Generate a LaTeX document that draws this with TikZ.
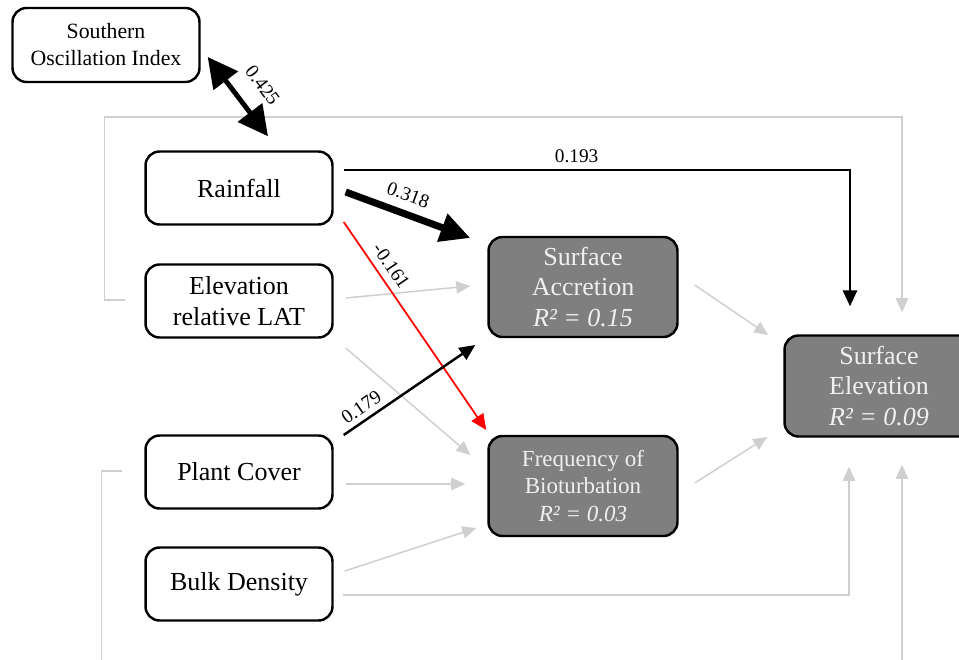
\documentclass[tikz,border=0pt]{standalone}
\usepackage{fontspec}
\setmainfont{Liberation Serif}
\usetikzlibrary{arrows.meta}

\definecolor{boxgray}{HTML}{7F7F7F}
\definecolor{pathgray}{HTML}{CFCFCF}

\tikzset{
    inbox/.style={draw, line width=1.4pt, rounded corners=0.28cm, fill=white,
        align=center, minimum width=3.74cm, minimum height=1.46cm,
        font=\fontsize{14.8}{17.6}\selectfont},
    outbox/.style={inbox, fill=boxgray, text=white!94!black,
        minimum width=3.78cm, minimum height=2cm},
    smalltext/.style={font=\fontsize{13.1}{15.6}\selectfont},
    faint/.style={pathgray, line width=0.85pt, -{Triangle[length=8pt,width=7pt]}},
    sig/.style={black, line width=1.4pt, -{Triangle[length=9pt,width=8pt]}},
    coef/.style={font=\fontsize{11}{13}\selectfont, text=black, sloped, inner sep=1pt},
}

\begin{document}
\begin{tikzpicture}[x=0.02cm, y=-0.02cm]

        \useasboundingbox (0,0) rectangle (959,659);

        \node[inbox, font=\fontsize{12.4}{15.4}\selectfont, minimum height=1.48cm] (soi) at (106,45) {Southern\\Oscillation Index};
        \node[inbox] (rain)  at (239,188) {Rainfall};
        \node[inbox] (elev)  at (239,301) {Elevation\\relative LAT};
        \node[inbox] (plant) at (239,472) {Plant Cover};
        \node[inbox] (bulk)  at (239,584) {Bulk Density};

        \node[outbox] (acc) at (583,287) {Surface\\Accretion\\\textit{R² = 0.15}};
        \node[outbox, smalltext] (bio) at (583,486) {Frequency of\\Bioturbation\\\textit{R² = 0.03}};
        \node[outbox, minimum height=2.02cm] (surf) at (879,386) {Surface\\Elevation\\\textit{R² = 0.09}};

        % non-significant paths
        \draw[faint] ([shift={(12,-3)}]elev.east) -- ([shift={(-17,-1)}]acc.west);
        \draw[faint] ([shift={(12,47)}]elev.east) -- ([shift={(-17,-31)}]bio.west);
        \draw[faint] ([shift={(12,12)}]plant.east) -- ([shift={(-22,-2)}]bio.west);
        \draw[faint] ([shift={(11,-13)}]bulk.east) -- ([shift={(-11,42)}]bio.west);
        \draw[faint] ([shift={(9,11)}]bulk.east) -| ([shift={(-30,29)}]surf.south);
        \draw[faint] ([shift={(16,-2)}]acc.east) -- ([shift={(-15,-51)}]surf.west);
        \draw[faint] ([shift={(16,-3)}]bio.east) -- ([shift={(-16,51)}]surf.west);
        \draw[faint] ([shift={(-19,-1)}]elev.west) -- ++(-21,0) -- ++(0,-183)
            -| ([shift={(23,-22)}]surf.north);
        \draw[faint] ([shift={(-22,-1)}]plant.west) -- ++(-21,0) -- ++(0,230)
            -| ([shift={(23,27)}]surf.south);

        % significant paths
        \draw[line width=2.8pt, {Triangle[length=17pt,width=17pt]}-{Triangle[length=17pt,width=17pt]}]
            ([shift={(7,12)}]soi.east) -- node[coef, above=9pt, pos=0.56] {0.425} ([shift={(29,-14)}]rain.north);
        \draw[sig] ([shift={(10,-18)}]rain.east) -| node[pos=0.23, above, font=\fontsize{11}{13}\selectfont] {0.193}
            ([shift={(-29,-28)}]surf.north);
        \draw[black, line width=4pt, -{Triangle[length=17pt,width=16pt]}]
            ([shift={(12,4)}]rain.east) -- node[coef, above=4pt, pos=0.45] {0.318} ([shift={(-17,-49)}]acc.west);
        \draw[red, line width=1pt, -{Triangle[length=9pt,width=8pt]}]
            ([shift={(10,34)}]rain.east) -- node[coef, above=3pt, pos=0.25] {-0.161} ([shift={(-1,-56)}]bio.west);
        \draw[sig] ([shift={(10,-37)}]plant.east) -- node[coef, above=2pt, pos=0.19] {0.179} ([shift={(-12,58)}]acc.west);

    \end{tikzpicture}
\end{document}
